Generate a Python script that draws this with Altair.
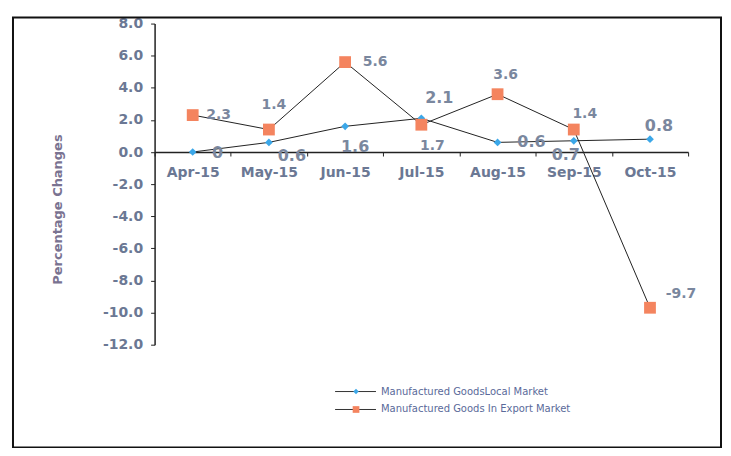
import altair as alt
import pandas as pd

months = ["Apr-15", "May-15", "Jun-15", "Jul-15", "Aug-15", "Sep-15", "Oct-15"]
local_market = [0.0, 0.6, 1.6, 2.1, 0.6, 0.7, 0.8]
export_market = [2.3, 1.4, 5.6, 1.7, 3.6, 1.4, -9.7]
local_labels = ["0", "0.6", "1.6", "2.1", "0.6", "0.7", "0.8"]
export_labels = ["2.3", "1.4", "5.6", "1.7", "3.6", "1.4", "-9.7"]
series_names = ["Manufactured  GoodsLocal  Market", "Manufactured  Goods  In Export  Market"]
y_ticks = [8, 6, 4, 2, 0, -2, -4, -6, -8, -10, -12]

# label placement offsets (pixels), style only
local_dx = [25, 23, 10, 18, 34, -8, 9]
local_dy = [1, 14, 21, -20, 0, 14, -13]
export_dx = [26, 5, 30, 11, 8, 11, 31]
export_dy = [0, -25, 0, 21, -19, -16, -14]

BLUE = "#3BA7E8"
ORANGE = "#F4845F"
TXT = "#6B7894"
LBL = "#7A879E"
FONT = "DejaVu Sans"

local_df = pd.DataFrame({"month": months, "value": local_market, "label": local_labels})
export_df = pd.DataFrame({"month": months, "value": export_market, "label": export_labels})

W, H = 535, 322
xs = alt.Scale(domain=months, paddingInner=0, paddingOuter=0)
ys = alt.Scale(domain=[-12, 8], nice=False, zero=False)
zero_px = H * 8 / 20

x_enc = alt.X("month:N", scale=xs, sort=months, title=None,
              axis=alt.Axis(offset=-(H - zero_px), labelAngle=0, tickBand="extent",
                            domainColor="#222", tickColor="#222", tickSize=4,
                            labelFont=FONT, labelFontSize=14, labelFontWeight="bold",
                            labelColor=TXT, labelPadding=10, domainWidth=1.5))
y_enc = alt.Y("value:Q", scale=ys,
              axis=alt.Axis(values=y_ticks, grid=False, title="Percentage Changes",
                            labelExpr="replace(format(datum.value, '.1f'), '\u2212', '-')",
                            domainColor="#222", tickColor="#222", tickSize=4, domainWidth=1.5,
                            labelFont=FONT, labelFontSize=14, labelFontWeight="bold",
                            labelColor=TXT, labelPadding=8,
                            titleFont=FONT, titleFontSize=13, titleFontWeight="bold",
                            titleColor="#7A7391", titleX=-90, titleY=186, titleAngle=-90))

line_l = alt.Chart(local_df).mark_line(color="#222", strokeWidth=1).encode(x=x_enc, y=y_enc)
line_e = alt.Chart(export_df).mark_line(color="#222", strokeWidth=1).encode(x=x_enc, y=y_enc)
pts_l = alt.Chart(local_df).mark_point(shape="diamond", filled=True, color=BLUE, size=60, opacity=1).encode(x=x_enc, y=y_enc)
pts_e = alt.Chart(export_df).mark_point(shape="square", filled=True, color=ORANGE, size=140, opacity=1).encode(x=x_enc, y=y_enc)

label_layers = []
for df, dxs, dys, fs in [(local_df, local_dx, local_dy, 16), (export_df, export_dx, export_dy, 14)]:
    for m, dx, dy in zip(months, dxs, dys):
        label_layers.append(
            alt.Chart(df).transform_filter(alt.datum.month == m).mark_text(
                font=FONT, fontSize=fs, fontWeight="bold", color=LBL, dx=dx, dy=dy
            ).encode(x=x_enc, y=y_enc, text="label:N")
        )

# manual legend
leg_layers = []
for i, (nm, col, shp, sz) in enumerate(zip(series_names, [BLUE, ORANGE], ["diamond", "square"], [30, 45])):
    d = pd.DataFrame({"name": [nm]})
    yy = 369 + 18 * i
    leg_layers.append(alt.Chart(d).mark_rule(color="#333", strokeWidth=1).encode(
        x=alt.value(181), x2=alt.value(222), y=alt.value(yy)))
    leg_layers.append(alt.Chart(d).mark_point(shape=shp, filled=True, color=col, size=sz, opacity=1).encode(
        x=alt.value(202), y=alt.value(yy)))
    leg_layers.append(alt.Chart(d).mark_text(font=FONT, fontSize=10, color="#5A6A9A", align="left",
                                              baseline="middle").encode(
        x=alt.value(227), y=alt.value(yy), text="name:N"))

frame = alt.Chart(pd.DataFrame({"a": [0]})).mark_rect(fill=None, stroke="#111", strokeWidth=2).encode(
    x=alt.value(-142), x2=alt.value(568), y=alt.value(-6), y2=alt.value(425))

chart = alt.layer(frame, line_l, line_e, pts_l, pts_e, *label_layers, *leg_layers).properties(
    width=W, height=H, autosize="none",
    padding={"left": 147, "top": 15, "right": 35, "bottom": 103}
).configure_view(stroke=None)

chart.save("out.html", embed_options={"renderer": "svg", "actions": False})
